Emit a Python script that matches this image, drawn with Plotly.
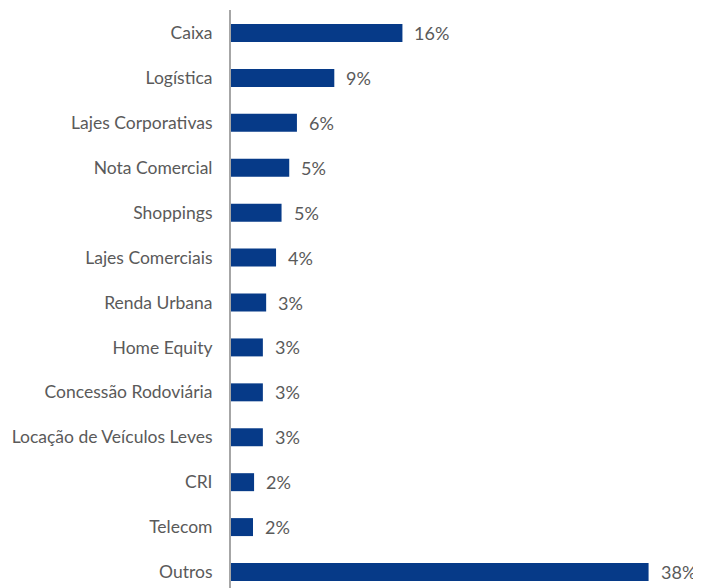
import plotly.graph_objects as go

categories = ["Caixa", "Logística", "Lajes Corporativas", "Nota Comercial", "Shoppings",
              "Lajes Comerciais", "Renda Urbana", "Home Equity", "Concessão Rodoviária",
              "Locação de Veículos Leves", "CRI", "Telecom", "Outros"]
values = [15.6, 9.4, 6.0, 5.3, 4.6, 4.1, 3.2, 2.9, 2.9, 2.9, 2.1, 2.0, 38.0]
labels = ["16%", "9%", "6%", "5%", "5%", "4%", "3%", "3%", "3%", "3%", "2%", "2%", "38%"]

BAR = "#063a88"
TXT = "#5a5a5a"
FONT = "Lato"

fig = go.Figure(go.Bar(
    x=values, y=categories, orientation="h",
    marker=dict(color=BAR, line=dict(width=0)),
    width=0.4, hoverinfo="skip",
))

for c, v, t in zip(categories, values, labels):
    fig.add_annotation(x=v, y=c, text=t, showarrow=False, xanchor="left",
                       xshift=10, font=dict(family=FONT, size=18, color=TXT))

# page body has an 8px margin: figure is sized/offset to compensate
fig.update_layout(
    width=693, height=580,
    margin=dict(l=223, r=0, t=2, b=0),
    paper_bgcolor="white", plot_bgcolor="white",
    showlegend=False,
    xaxis=dict(range=[0, 42.77], visible=False, fixedrange=True),
    yaxis=dict(categoryorder="array", categoryarray=categories,
               range=[12.356, -0.512], showline=True, linecolor="#a6a6a6",
               linewidth=2, showgrid=False, zeroline=False, ticks="",
               ticklabelstandoff=13,
               tickfont=dict(family=FONT, size=17.5, color=TXT)),
)

fig.write_html("out.html")
